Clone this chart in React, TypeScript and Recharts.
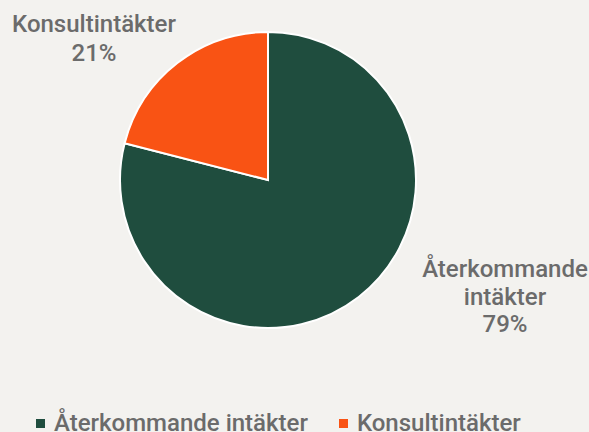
import React from 'react';
import { PieChart, Pie, Cell, Legend } from 'recharts';

const categories = ['Återkommande intäkter', 'Konsultintäkter'];
const values = [79, 21];
const labelLines = [['Återkommande', 'intäkter', '79%'], ['Konsultintäkter', '21%']];
const colors = ['#1F4D3E', '#F95314'];
const labelOffsets = [[237, 97], [-174, -148]];
const labelLineHeights = [27.5, 29];

const data = categories.map((name, i) => ({ name, value: values[i] }));

const BG = '#F3F2EF';
const TEXT = '#6B6B6B';
const FONT = 'Roboto, sans-serif';

const renderLabel = (props: any) => {
  const { cx, cy, index } = props;
  const [dx, dy] = labelOffsets[index];
  const lines = labelLines[index];
  return (
    <text x={cx + dx} y={cy + dy} textAnchor="middle" fill={TEXT} fontFamily={FONT} fontSize={24} fontWeight={500}>
      {lines.map((l, i) => (
        <tspan key={i} x={cx + dx} dy={i === 0 ? 0 : labelLineHeights[index]}>{l}</tspan>
      ))}
    </text>
  );
};

const LegendContent = () => (
  <div style={{ display: 'flex', justifyContent: 'flex-start', paddingLeft: 36, fontFamily: FONT, fontSize: 24, fontWeight: 500, color: TEXT, lineHeight: '28px', whiteSpace: 'nowrap' }}>
    {categories.map((c, i) => (
      <div key={c} style={{ display: 'flex', alignItems: 'center', marginRight: 31 }}>
        <span style={{ display: 'inline-block', width: 9, height: 9, background: colors[i], marginRight: 9 }} />
        <span>{c}</span>
      </div>
    ))}
  </div>
);

export default function App() {
  return (
    <div style={{ position: 'absolute', left: 0, top: 0, width: 589, height: 432, background: BG, overflow: 'hidden' }}>
      <PieChart width={589} height={432} margin={{ top: 0, right: 0, bottom: 0, left: 0 }}>
        <Pie
          data={data}
          dataKey="value"
          nameKey="name"
          cx={268}
          cy={180}
          outerRadius={148}
          startAngle={90}
          endAngle={-270}
          stroke="#FFFFFF"
          strokeWidth={2}
          label={renderLabel}
          labelLine={false}
          isAnimationActive={false}
        >
          {data.map((d, i) => (
            <Cell key={d.name} fill={colors[i]} />
          ))}
        </Pie>
        <Legend
          content={<LegendContent />}
          verticalAlign="bottom"
          wrapperStyle={{ left: 0, top: 409, width: 589 }}
        />
      </PieChart>
    </div>
  );
}
